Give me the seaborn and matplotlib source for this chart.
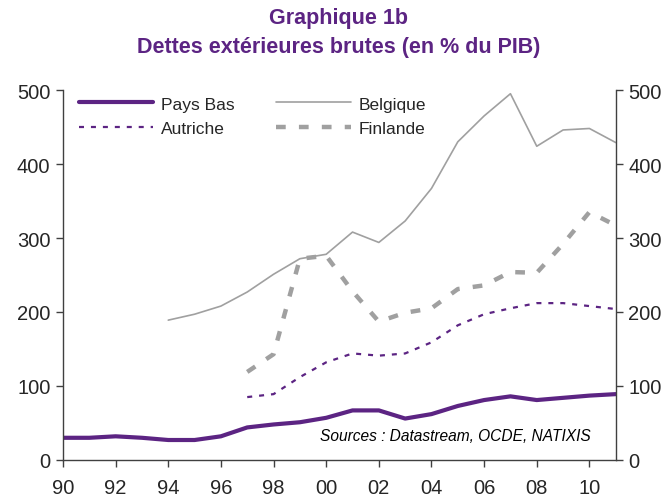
import numpy as np
import pandas as pd
import matplotlib
matplotlib.use("Agg")
import matplotlib.pyplot as plt
import seaborn as sns

years = list(range(1990, 2012))
pays_bas = [30, 30, 32, 30, 27, 27, 32, 44, 48, 51, 57, 67, 67, 56, 62, 73, 81, 86, 81, 84, 87, 89]
belgique_years = list(range(1994, 2012))
belgique = [189, 197, 208, 227, 251, 272, 278, 308, 294, 323, 367, 430, 465, 495, 424, 446, 448, 429]
autriche_years = list(range(1997, 2012))
autriche = [85, 89, 112, 132, 144, 141, 144, 159, 182, 197, 205, 212, 212, 208, 204]
finlande_years = list(range(1997, 2012))
finlande = [119, 143, 272, 276, 228, 187, 199, 205, 231, 236, 254, 253, 292, 335, 317]
xtick_labels = ["90", "92", "94", "96", "98", "00", "02", "04", "06", "08", "10"]
yticks = [0, 100, 200, 300, 400, 500]

sns.set_theme(style="white")
plt.rcParams['font.family'] = ['Liberation Sans', 'DejaVu Sans']
plt.rcParams['lines.scale_dashes'] = False

purple = "#5C2483"
grey = "#A0A0A0"
axis_col = "#404040"

fig = plt.figure(figsize=(6.7, 5.02), dpi=100)
ax = fig.add_axes([0.094, 0.0817, 0.825, 0.737])

df_pb = pd.DataFrame({"annee": years, "val": pays_bas})
df_be = pd.DataFrame({"annee": belgique_years, "val": belgique})
df_au = pd.DataFrame({"annee": autriche_years, "val": autriche})
df_fi = pd.DataFrame({"annee": finlande_years, "val": finlande})

sns.lineplot(data=df_pb, x="annee", y="val", ax=ax, color=purple, linewidth=3.0, label="Pays Bas")
sns.lineplot(data=df_be, x="annee", y="val", ax=ax, color=grey, linewidth=1.2, label="Belgique")
sns.lineplot(data=df_au, x="annee", y="val", ax=ax, color=purple, linewidth=1.6, label="Autriche")
sns.lineplot(data=df_fi, x="annee", y="val", ax=ax, color=grey, linewidth=3.2, label="Finlande")
lines = ax.get_lines()
lines[2].set_dashes((3.6, 5.0))
lines[3].set_dashes((7.0, 9.5))

ax.set_xlim(1990, 2011)
ax.set_ylim(0, 500)
ax.set_xticks(list(range(1990, 2011, 2)))
ax.set_xticklabels(xtick_labels)
ax.set_yticks(yticks)
ax.set_xlabel("")
ax.set_ylabel("")

for side in ["left", "right", "bottom"]:
    ax.spines[side].set_visible(True)
    ax.spines[side].set_color(axis_col)
    ax.spines[side].set_linewidth(1.0)
ax.spines["top"].set_visible(False)

ax.tick_params(axis="y", which="both", left=True, right=True, labelleft=True, labelright=True,
               direction="out", length=5, width=1, color=axis_col, labelsize=14.5, pad=4)
ax.tick_params(axis="x", bottom=True, direction="out", length=5, width=1, color=axis_col,
               labelsize=14.5, pad=8)

handles, labels = ax.get_legend_handles_labels()
order = [0, 2, 1, 3]
leg = ax.legend([handles[i] for i in order], [labels[i] for i in order], ncol=2, frameon=False,
                loc="upper left", bbox_to_anchor=(0.0, 1.025), fontsize=12.5, handlelength=4.3,
                handletextpad=0.45, columnspacing=2.4, labelspacing=0.55)

ax.text(0.955, 0.045, "Sources : Datastream, OCDE, NATIXIS", transform=ax.transAxes,
        ha="right", va="bottom", fontsize=11.2, style="italic", color="#000000")

fig.text(0.505, 0.964, "Graphique 1b", ha="center", va="center", fontsize=15.5, fontweight="bold", color=purple)
fig.text(0.505, 0.905, "Dettes extérieures brutes (en % du PIB)", ha="center", va="center",
         fontsize=15.5, fontweight="bold", color=purple)

fig.savefig("out.png", dpi=100)
